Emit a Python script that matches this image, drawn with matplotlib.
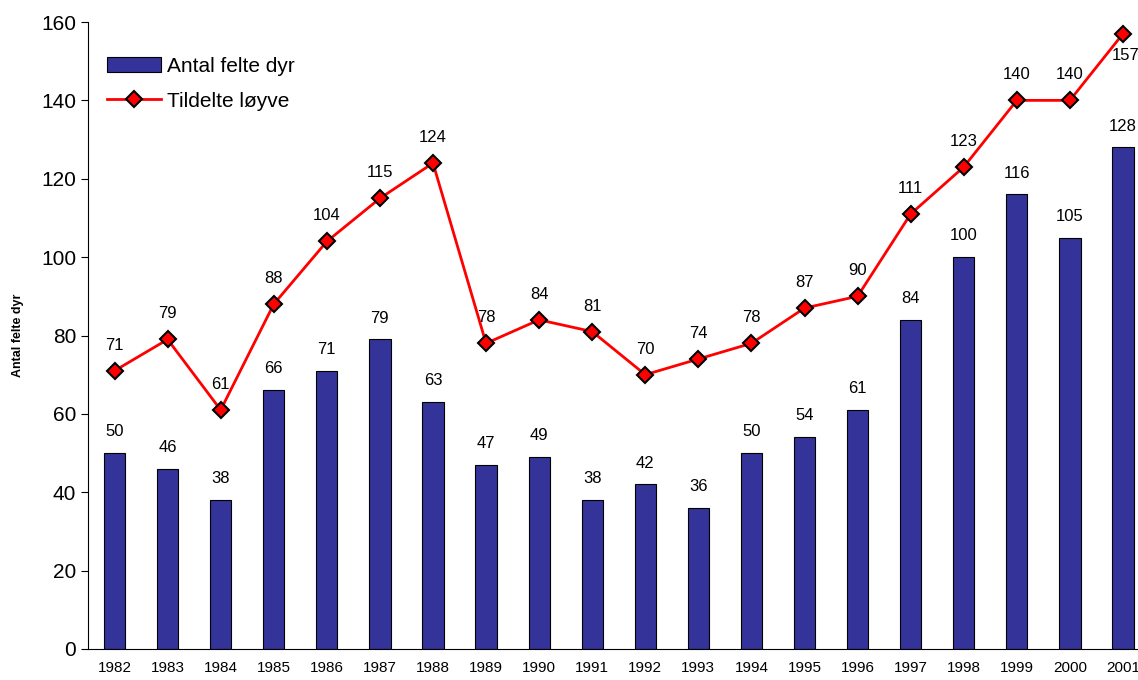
import numpy as np
import matplotlib.pyplot as plt

plt.rcParams['font.family'] = ['Liberation Sans', 'DejaVu Sans']

years = ['1982', '1983', '1984', '1985', '1986', '1987', '1988', '1989', '1990', '1991',
         '1992', '1993', '1994', '1995', '1996', '1997', '1998', '1999', '2000', '2001']
felte = [50, 46, 38, 66, 71, 79, 63, 47, 49, 38, 42, 36, 50, 54, 61, 84, 100, 116, 105, 128]
loyve = [71, 79, 61, 88, 104, 115, 124, 78, 84, 81, 70, 74, 78, 87, 90, 111, 123, 140, 140, 157]

fig = plt.figure(figsize=(11.38, 6.8), dpi=100)
ax = fig.add_axes([88 / 1138, 31 / 680, 1061.5 / 1138, 627 / 680])

x = np.arange(len(years))
bars = ax.bar(x, felte, width=0.4, color='#333399', edgecolor='black', linewidth=0.8,
              label='Antal felte dyr', zorder=2)
line, = ax.plot(x, loyve, color='red', linewidth=2, marker='D', markersize=8,
                markerfacecolor='red', markeredgecolor='black', markeredgewidth=1.5,
                label='Tildelte løyve', zorder=3)

# verdietiketter
for i, v in enumerate(felte):
    ax.annotate(str(v), (i, v), xytext=(0, 10), textcoords='offset points',
                ha='center', va='bottom', fontsize=12)
for i, v in enumerate(loyve):
    if i == len(loyve) - 1:
        ax.annotate(str(v), (i, v), xytext=(2, -10), textcoords='offset points',
                    ha='center', va='top', fontsize=12)
    else:
        ax.annotate(str(v), (i, v), xytext=(0, 13), textcoords='offset points',
                    ha='center', va='bottom', fontsize=12)

ax.set_xlim(-0.5, len(years) - 0.5)
ax.set_ylim(0, 160)
ax.set_yticks(range(0, 161, 20))
ax.set_xticks(x)
ax.set_xticklabels(years, fontsize=11)
ax.tick_params(axis='y', labelsize=15, length=5, direction='out')
ax.tick_params(axis='x', length=0, pad=9)
ax.spines['top'].set_visible(False)
ax.spines['right'].set_visible(False)
ax.set_ylabel('Antal felte dyr', fontsize=9, fontweight='bold', labelpad=12)

ax.legend(handles=[bars, line], loc='upper left', bbox_to_anchor=(0.0, 0.974),
          frameon=False, fontsize=15, handlelength=2.6, handletextpad=0.3,
          labelspacing=0.75)

fig.savefig('out.png', dpi=100)
